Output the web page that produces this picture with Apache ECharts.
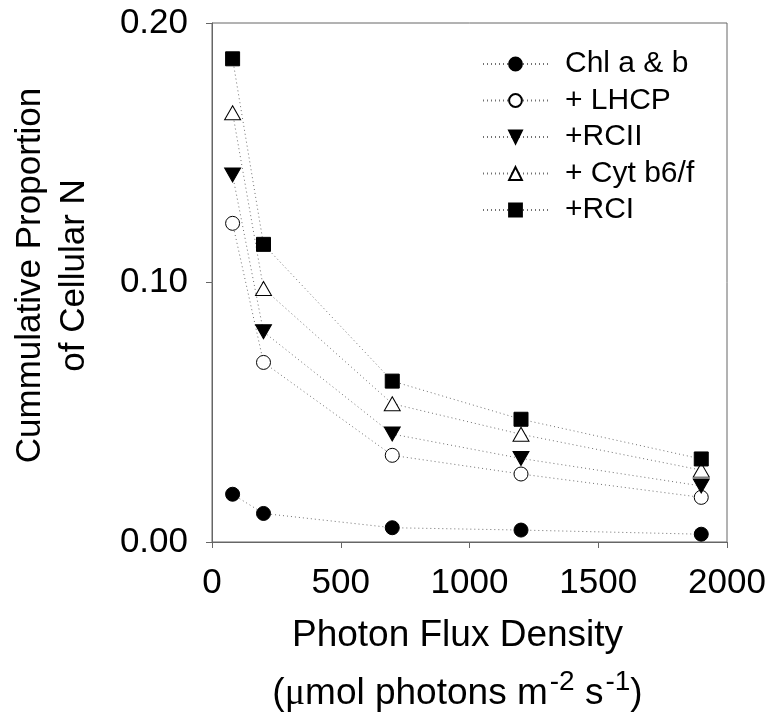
<!DOCTYPE html>
<html>
<head>
<meta charset="utf-8">
<script src="https://cdn.jsdelivr.net/npm/echarts@6/dist/echarts.min.js"></script>
<style>
html,body{margin:0;padding:0;background:#fff;}
#chart{width:769px;height:719px;}
</style>
</head>
<body>
<div id="chart"></div>
<script>
const xValues = [80, 200, 700, 1200, 1900];
const seriesNames = ['Chl a & b', '+ LHCP', '+RCII', '+ Cyt b6/f', '+RCI'];
const chlAB = [0.0184, 0.0110, 0.0055, 0.0046, 0.0030];
const lhcp = [0.1228, 0.0692, 0.0334, 0.0262, 0.0172];
const rcii = [0.1414, 0.0810, 0.0416, 0.0322, 0.0216];
const cytB6f = [0.1654, 0.0977, 0.0533, 0.0415, 0.0277];
const rci = [0.1862, 0.1147, 0.0620, 0.0473, 0.0320];
const yTicks = [0, 0.1, 0.2];
const xTicks = [0, 500, 1000, 1500, 2000];

const FONT = '"Liberation Sans", Arial, sans-serif';
const lineGray = '#707070';
const axisGray = '#666666';

function pairs(vals) { return xValues.map((x, i) => [x, vals[i]]); }

const styles = [
  { symbol: 'circle', size: 14, fill: '#000', rotate: 0 },
  { symbol: 'circle', size: 14, fill: '#fff', rotate: 0 },
  { symbol: 'triangle', size: [16, 14], fill: '#000', rotate: 180 },
  { symbol: 'triangle', size: [16, 14], fill: '#fff', rotate: 0 },
  { symbol: 'rect', size: 14, fill: '#000', rotate: 0 }
];
const allData = [chlAB, lhcp, rcii, cytB6f, rci];

const series = allData.map((vals, i) => ({
  name: seriesNames[i],
  type: 'line',
  data: pairs(vals),
  symbol: styles[i].symbol,
  symbolSize: styles[i].size,
  symbolRotate: styles[i].rotate,
  showAllSymbol: true,
  animation: false,
  itemStyle: { color: styles[i].fill, borderColor: '#000', borderWidth: 1, opacity: 1 },
  lineStyle: { color: lineGray, width: 1, type: [1, 3] },
  emphasis: { disabled: true },
  z: 2 + i
}));

const chart = echarts.init(document.getElementById('chart'), null, { renderer: 'canvas' });
chart.setOption({
  backgroundColor: '#fff',
  animation: false,
  grid: { left: 208, right: 42, top: 23, bottom: 177, show: true, borderColor: axisGray, borderWidth: 1, backgroundColor: 'transparent' },
  legend: {
    orient: 'vertical',
    left: 477,
    top: 44,
    itemWidth: 65,
    itemHeight: 16,
    itemGap: 6.5,
    data: seriesNames,
    textStyle: { fontFamily: FONT, fontSize: 30, color: '#000', lineHeight: 30, padding: [0, 0, 0, 12] }
  },
  xAxis: {
    type: 'value',
    min: 0, max: 2000, interval: 500,
    axisLine: { show: true, onZero: false, lineStyle: { color: axisGray, width: 1 } },
    axisTick: { show: true, inside: false, length: 6, lineStyle: { color: axisGray } },
    splitLine: { show: false },
    axisLabel: { fontFamily: FONT, fontSize: 35, color: '#000', margin: 24, formatter: v => String(v) },
    name: '{a|Photon Flux Density}\n{b|(}{mu|\u03bc}{b|mol photons m}{sup|-2}{b| s}{sup|-1}{b|)}',
    nameLocation: 'middle',
    nameGap: 74,
    nameTextStyle: {
      fontFamily: FONT, color: '#000',
      padding: [0, 24, 0, 0],
      rich: {
        a: { fontFamily: FONT, fontSize: 37, lineHeight: 40, color: '#000' },
        b: { fontFamily: FONT, fontSize: 37, lineHeight: 76, color: '#000' },
        mu: { fontFamily: '"Liberation Serif", serif', fontSize: 38, lineHeight: 76, color: '#000' },
        sup: { fontFamily: FONT, fontSize: 28, color: '#000', padding: [0, 0, 24, 2] }
      }
    }
  },
  yAxis: {
    type: 'value',
    min: 0, max: 0.2, interval: 0.1,
    axisLine: { show: true, onZero: false, lineStyle: { color: axisGray, width: 1 } },
    axisTick: { show: true, inside: false, length: 6, lineStyle: { color: axisGray } },
    splitLine: { show: false },
    axisLabel: { fontFamily: FONT, fontSize: 35, color: '#000', margin: 24, formatter: v => v.toFixed(2) },
    name: 'Cummulative Proportion\nof Cellular N',
    nameLocation: 'middle',
    nameRotate: 90,
    nameGap: 116,
    nameTextStyle: { fontFamily: FONT, fontSize: 35, lineHeight: 44, color: '#000', align: 'center', padding: [0, 0, 0, 14] }
  },
  series: series
});
</script>
</body>
</html>
